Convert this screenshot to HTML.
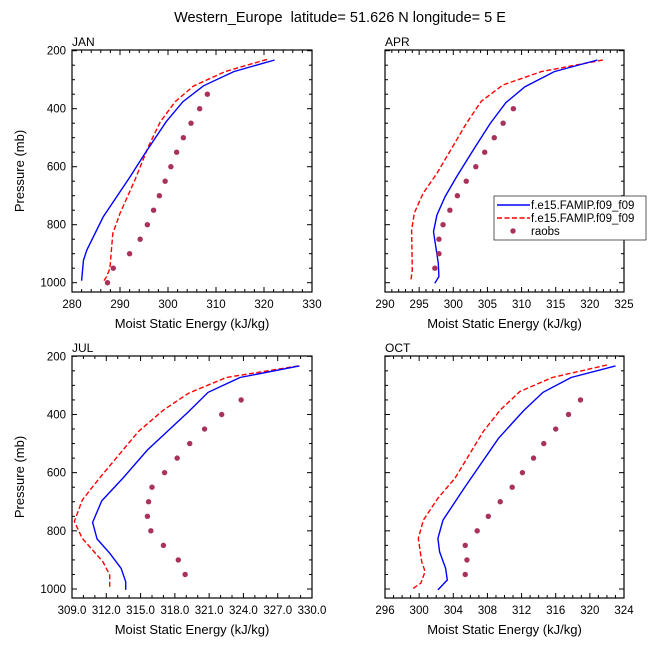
<!DOCTYPE html>
<html><head><meta charset="utf-8"><style>
html,body{margin:0;padding:0;background:#fff;}
svg{display:block;font-family:"Liberation Sans",sans-serif;}
</style></head><body>
<svg id="c" width="648" height="648" viewBox="0 0 648 648">
<text x="340" y="22" font-size="14.5" text-anchor="middle" style="white-space:pre" xml:space="preserve">Western_Europe  latitude= 51.626 N longitude= 5 E</text>
</svg>
<script>
const NS="http://www.w3.org/2000/svg";
const svg=document.getElementById('c');
const panelNames=["JAN","APR","JUL","OCT"];
// JAN
const janBlueX=[322.2,313.7,307.4,303.1,299.6,295.2,292.1,286.5,283.1,282.4,282.0];
const janBlueP=[232,272,321,376,445,554,635,773,887,922,993];
const janRedX=[320.6,311.9,305.3,301.5,298.4,295.9,293.1,290.0,288.5,287.9,287.2,286.4];
const janRedP=[230,272,322,376,445,531,646,761,830,951,979,1000];
const janRaobX=[308.2,306.6,304.8,303.2,301.8,300.6,299.4,298.2,297.0,295.7,294.2,292.0,288.6,287.4];
const janRaobP=[350,400,450,500,550,600,650,700,750,800,850,900,950,1000];
// APR
const aprBlueX=[321.1,314.8,310.5,307.7,305.4,302.9,300.5,298.8,297.6,297.1,297.8,297.9,297.3];
const aprBlueP=[232,272,324,379,451,543,634,703,767,824,933,979,1002];
const aprRedX=[321.9,312.9,307.3,304.1,301.9,297.6,295.6,294.3,293.9,294.0,293.8];
const aprRedP=[232,272,318,374,451,623,691,759,818,956,993];
const aprRaobX=[308.8,307.3,306.0,304.6,303.3,301.9,300.6,299.5,298.5,297.9,297.9,297.3];
const aprRaobP=[400,450,500,550,600,650,700,750,800,850,900,950];
// JUL
const julBlueX=[328.9,323.7,320.9,319.2,315.6,313.5,311.6,310.8,311.2,312.3,313.3,313.7,313.7];
const julBlueP=[233,273,324,390,522,617,697,771,828,877,929,975,1003];
const julRedX=[328.8,322.5,319.2,317.0,314.8,311.4,309.9,309.2,309.9,311.7,312.3,312.3];
const julRedP=[233,273,327,385,459,619,694,768,826,906,952,1000];
const julRaobX=[323.8,322.1,320.6,319.3,318.2,317.1,316.0,315.7,315.6,315.9,317.0,318.3,318.9];
const julRaobP=[350,400,450,500,550,600,650,700,750,800,850,900,950];
// OCT
const octBlueX=[323.0,317.8,314.5,312.2,309.3,305.4,302.8,302.2,302.4,303.1,303.3,302.2];
const octBlueP=[233,273,324,388,482,648,763,826,872,929,969,1003];
const octRedX=[322.0,315.6,311.8,309.5,307.5,304.2,302.2,300.5,299.9,300.3,300.7,300.2,299.2];
const octRedP=[230,273,321,385,459,619,688,763,826,906,940,980,1000];
const octRaobX=[318.9,317.5,316.0,314.6,313.4,312.1,310.9,309.5,308.1,306.8,305.4,305.6,305.4];
const octRaobP=[350,400,450,500,550,600,650,700,750,800,850,900,950];
// axis ticks
const janTicks=[280,290,300,310,320,330];
const aprTicks=[290,295,300,305,310,315,320,325];
const julTicks=["309.0","312.0","315.0","318.0","321.0","324.0","327.0","330.0"];
const octTicks=[296,300,304,308,312,316,320,324];
const pTicks=[200,400,600,800,1000];

function el(t,a,name,parent){const e=document.createElementNS(NS,t);for(const k in a)e.setAttribute(k,a[k]);


(parent||svg).appendChild(e);return e;}

const panels=[
 {name:"JAN",L:72,R:312,T:50,B:292,y200:50.7,y1000:282.7,ticks:janTicks,minor:5,blue:[janBlueX,janBlueP],red:[janRedX,janRedP],raob:[janRaobX,janRaobP],left:true},
 {name:"APR",L:385,R:624,T:50,B:292,y200:50.7,y1000:282.7,ticks:aprTicks,minor:5,blue:[aprBlueX,aprBlueP],red:[aprRedX,aprRedP],raob:[aprRaobX,aprRaobP],left:false},
 {name:"JUL",L:72,R:312,T:356,B:598,y200:356.3,y1000:589,ticks:julTicks,minor:3,blue:[julBlueX,julBlueP],red:[julRedX,julRedP],raob:[julRaobX,julRaobP],left:true},
 {name:"OCT",L:385,R:624,T:356,B:598,y200:356.3,y1000:589,ticks:octTicks,minor:4,blue:[octBlueX,octBlueP],red:[octRedX,octRedP],raob:[octRaobX,octRaobP],left:false}
];

panels.forEach(p=>{
 const id=p.name.toLowerCase();
 const g=el('g',{},id+'-panel');
 const tv=p.ticks.map(Number);
 const x0=tv[0],x1=tv[tv.length-1];
 const X=v=>p.L+(v-x0)/(x1-x0)*(p.R-p.L);
 const Y=v=>p.y200+(v-200)/800*(p.y1000-p.y200);
 el('text',{x:p.L,y:p.T-4,'font-size':12},id+'-panel-label',g).textContent=p.name;
 const tk=el('g',{stroke:'#000','stroke-width':1},id+'-ticks',g);
 for(let i=0;i<tv.length;i++){
  const x=X(tv[i]);
  el('line',{x1:x,y1:p.B,x2:x,y2:p.B-5},'x-major-tick',tk);
  el('line',{x1:x,y1:p.T,x2:x,y2:p.T+5},'x-major-tick-top',tk);
  const lab=el('text',{x:x,y:p.B+16,'font-size':11.5,'text-anchor':'middle',stroke:'none'},id+'-x-tick-label',g);
  lab.textContent=p.ticks[i];
  if(i<tv.length-1){for(let m=1;m<p.minor;m++){const xm=X(tv[i]+(tv[i+1]-tv[i])*m/p.minor);
   el('line',{x1:xm,y1:p.B,x2:xm,y2:p.B-3},'x-minor-tick',tk);
   el('line',{x1:xm,y1:p.T,x2:xm,y2:p.T+3},'x-minor-tick-top',tk);}}
 }
 for(let v=200;v<=1000;v+=50){const y=Y(v);const maj=v%200===0;const l=maj?5:3;
  el('line',{x1:p.L,y1:y,x2:p.L+l,y2:y},'y-tick',tk);
  el('line',{x1:p.R,y1:y,x2:p.R-l,y2:y},'y-tick-right',tk);}
 if(p.left){pTicks.forEach(v=>{el('text',{x:p.L-6,y:Y(v)+4,'font-size':11.5,'text-anchor':'end'},id+'-y-tick-label',g).textContent=v;});
  const cy=(p.T+p.B)/2;
  el('text',{x:24,y:cy,'font-size':13,'text-anchor':'middle',transform:`rotate(-90 24 ${cy})`},id+'-y-axis-title',g).textContent="Pressure (mb)";}
 el('text',{x:(p.L+p.R)/2,y:p.B+36,'font-size':13,'text-anchor':'middle'},id+'-x-axis-title',g).textContent="Moist Static Energy (kJ/kg)";
 const pts=(xs,ps)=>xs.map((v,i)=>X(v).toFixed(1)+','+Y(ps[i]).toFixed(1)).join(' ');
 el('polyline',{points:pts(p.red[0],p.red[1]),fill:'none',stroke:'#f00','stroke-width':1.4,'stroke-dasharray':'5,2.5'},id+'-red-dashed-line',g);
 el('polyline',{points:pts(p.blue[0],p.blue[1]),fill:'none',stroke:'#00f','stroke-width':1.4},id+'-blue-line',g);
 p.raob[0].forEach((v,i)=>{el('circle',{cx:X(v),cy:Y(p.raob[1][i]),r:2.7,fill:'#a8325a'},id+'-raob-point',g);});
 el('rect',{x:p.L,y:p.T,width:p.R-p.L,height:p.B-p.T,fill:'none',stroke:'#000','stroke-width':1.2},id+'-plot-frame',g);
});
const lg=el('g',{},'legend');
el('rect',{x:494,y:196,width:152,height:44,fill:'#fff',stroke:'#333','stroke-width':0.8},'legend-box',lg);
el('line',{x1:497,y1:205,x2:530,y2:205,stroke:'#00f','stroke-width':1.4},'legend-blue-line',lg);
el('text',{x:531,y:209,'font-size':11.5},'legend-label-blue',lg).textContent="f.e15.FAMIP.f09_f09";
el('line',{x1:497,y1:218,x2:530,y2:218,stroke:'#f00','stroke-width':1.4,'stroke-dasharray':'5,2.5'},'legend-red-line',lg);
el('text',{x:531,y:222,'font-size':11.5},'legend-label-red',lg).textContent="f.e15.FAMIP.f09_f09";
el('circle',{cx:513,cy:231,r:2.7,fill:'#a8325a'},'legend-raobs-marker',lg);
el('text',{x:531,y:235,'font-size':11.5},'legend-label-raobs',lg).textContent="raobs";
</script>
</body></html>
